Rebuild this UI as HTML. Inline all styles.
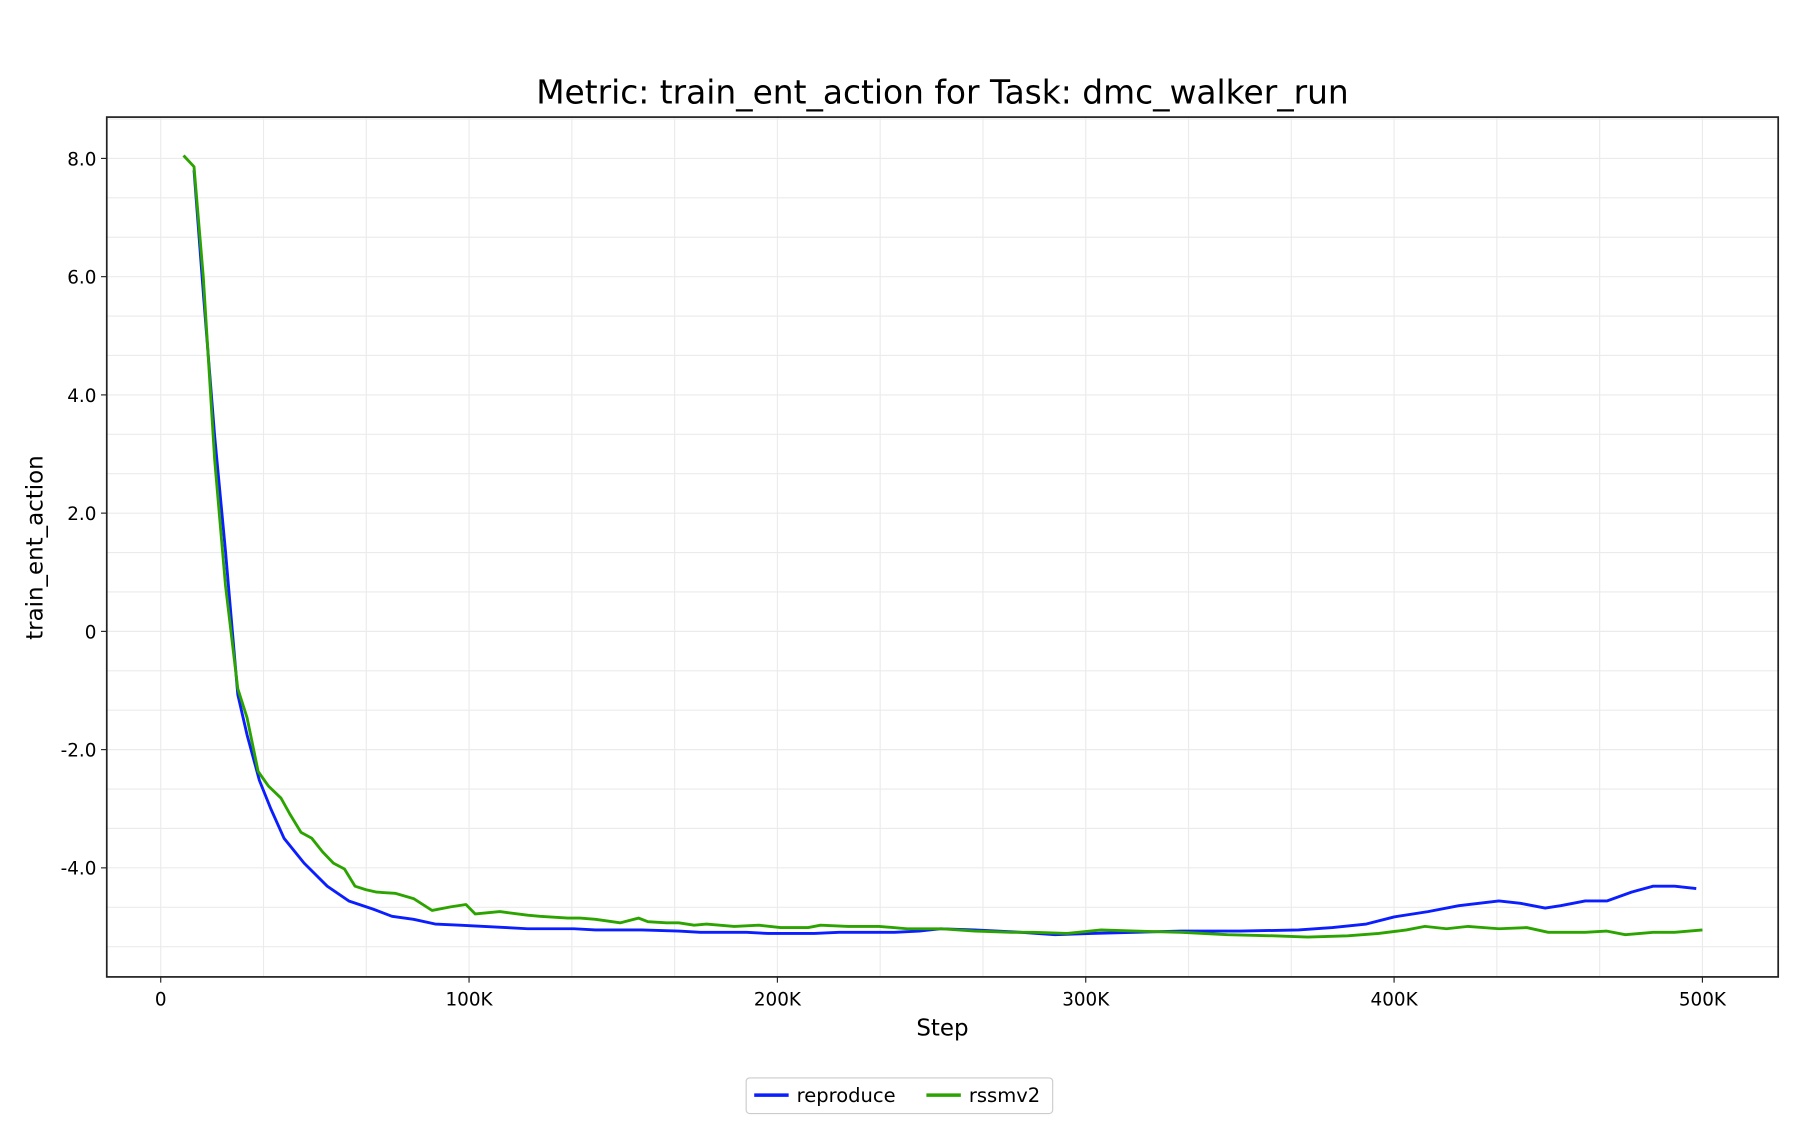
<!DOCTYPE html>
<html><head><meta charset="utf-8"><style>
html,body{margin:0;padding:0;background:#fff;}
svg{display:block;}
text{font-family:"DejaVu Sans","Liberation Sans",sans-serif;fill:#000;}
</style></head><body>
<svg id="chart" width="1800" height="1125" viewBox="0 0 1568 980" preserveAspectRatio="none" xmlns="http://www.w3.org/2000/svg">
<rect width="1568" height="980" fill="#fff"/>
<text x="821" y="90" font-size="28.6" text-anchor="middle">Metric: train_ent_action for Task: dmc_walker_run</text>
<g id="grid"></g>
<g id="series"></g>
<rect x="93" y="102" width="1456" height="749" fill="none" stroke="#222" stroke-width="1.5"/>
<g id="axes"></g>
<text x="821" y="902" font-size="20" text-anchor="middle">Step</text>
<text transform="translate(37,477) rotate(-90)" font-size="20" text-anchor="middle">train_ent_action</text>
<g>
<rect x="650" y="939" width="267" height="31" rx="3" fill="#fff" stroke="#ccc"/>
<g><line x1="657" y1="954" x2="687" y2="954" stroke="#0a1eff" stroke-width="3"/><text x="694" y="960" font-size="17">reproduce</text></g>
<g><line x1="807" y1="954" x2="837" y2="954" stroke="#2ca400" stroke-width="3"/><text x="844" y="960" font-size="17">rssmv2</text></g>
</g>
</svg>
<script>
const xTicks=[0,100000,200000,300000,400000,500000];
const xTickLabels=["0","100K","200K","300K","400K","500K"];
const yTicks=[8,6,4,2,0,-2,-4];
const yTickLabels=["8.0","6.0","4.0","2.0","0","-2.0","-4.0"];
const reproSteps=[10800,14000,17500,21000,25000,28000,32000,35700,40000,46500,54000,61000,69000,75000,82000,89000,97000,112000,119000,134000,141000,156000,168000,175000,190000,197000,212000,220000,238000,246000,253000,264000,279000,290000,302000,316000,331000,350000,369000,380000,391000,400000,411000,421000,434000,441000,449000,454000,462000,469000,477000,484000,491000,498000];
const reproValues=[7.8,5.6,3.3,1.36,-1.07,-1.75,-2.52,-3.0,-3.5,-3.92,-4.31,-4.56,-4.70,-4.82,-4.87,-4.95,-4.97,-5.01,-5.03,-5.03,-5.05,-5.05,-5.07,-5.09,-5.09,-5.11,-5.11,-5.09,-5.09,-5.07,-5.03,-5.05,-5.09,-5.13,-5.11,-5.09,-5.07,-5.07,-5.05,-5.01,-4.95,-4.83,-4.74,-4.64,-4.56,-4.60,-4.68,-4.64,-4.56,-4.56,-4.41,-4.31,-4.31,-4.35];
const rssmSteps=[7400,10800,13800,17500,21000,25000,28000,31600,35000,39000,42000,45500,49000,52500,56000,59600,63000,66600,70000,76000,82000,88000,94000,99000,102000,110000,119000,123000,132000,136000,141000,149000,155000,158000,164000,168000,173000,177000,186000,194000,201000,210000,214000,223000,233000,242000,253000,264000,276000,283000,294000,305000,316000,331000,346000,361000,372000,385000,395000,404000,410000,417000,424000,434000,443000,450000,462000,469000,475000,484000,491000,500000];
const rssmValues=[8.05,7.86,6.0,2.9,0.78,-0.97,-1.46,-2.37,-2.62,-2.82,-3.1,-3.4,-3.5,-3.73,-3.92,-4.02,-4.31,-4.37,-4.41,-4.43,-4.52,-4.72,-4.66,-4.62,-4.78,-4.74,-4.80,-4.82,-4.85,-4.85,-4.87,-4.93,-4.85,-4.91,-4.93,-4.93,-4.97,-4.95,-4.99,-4.97,-5.01,-5.01,-4.97,-4.99,-4.99,-5.03,-5.03,-5.07,-5.09,-5.09,-5.11,-5.05,-5.07,-5.09,-5.13,-5.15,-5.17,-5.15,-5.11,-5.05,-4.99,-5.03,-4.99,-5.03,-5.01,-5.09,-5.09,-5.07,-5.13,-5.09,-5.09,-5.05];
const NS="http://www.w3.org/2000/svg";
const X=v=>140+v/500000*1343;
const Y=v=>550-v*51.5;
function mk(tag,attrs,parent){const e=document.createElementNS(NS,tag);for(const k in attrs)e.setAttribute(k,attrs[k]);parent.appendChild(e);return e;}
const grid=document.getElementById('grid'),axes=document.getElementById('axes'),series=document.getElementById('series');
for(let s=-100000/3*1;s<=540000;s+=100000/3){const x=X(s);if(x<94||x>1548)continue;
 const l=mk('line',{x1:x,y1:102,x2:x,y2:851,stroke:'#ebebeb','stroke-width':1},grid);
 
 }
for(let v=-6;v<=9;v+=2/3){const y=Y(v);if(y<103||y>850)continue;
 const l=mk('line',{x1:93,y1:y,x2:1549,y2:y,stroke:'#ebebeb','stroke-width':1},grid);
 
 }
xTicks.forEach((t,i)=>{const x=X(t);
 mk('line',{x1:x,y1:851,x2:x,y2:856,stroke:'#222'},axes);
 const tx=mk('text',{x:x,y:876,'font-size':16,'text-anchor':'middle'},axes);tx.textContent=xTickLabels[i];
 
 });
yTicks.forEach((t,i)=>{const y=Y(t);
 mk('line',{x1:88,y1:y,x2:93,y2:y,stroke:'#222'},axes);
 const tx=mk('text',{x:84,y:y+6,'font-size':16,'text-anchor':'end'},axes);tx.textContent=yTickLabels[i];
 
 });
function line(xs,ys,color,name){
 const p=mk('polyline',{points:xs.map((s,i)=>X(s)+','+Y(ys[i])).join(' '),fill:'none',stroke:color,'stroke-width':2.5,'stroke-linejoin':'round'},series);
 
 }
line(reproSteps,reproValues,'#0a1eff','reproduce-line');
line(rssmSteps,rssmValues,'#2ca400','rssmv2-line');
</script>
</body></html>
